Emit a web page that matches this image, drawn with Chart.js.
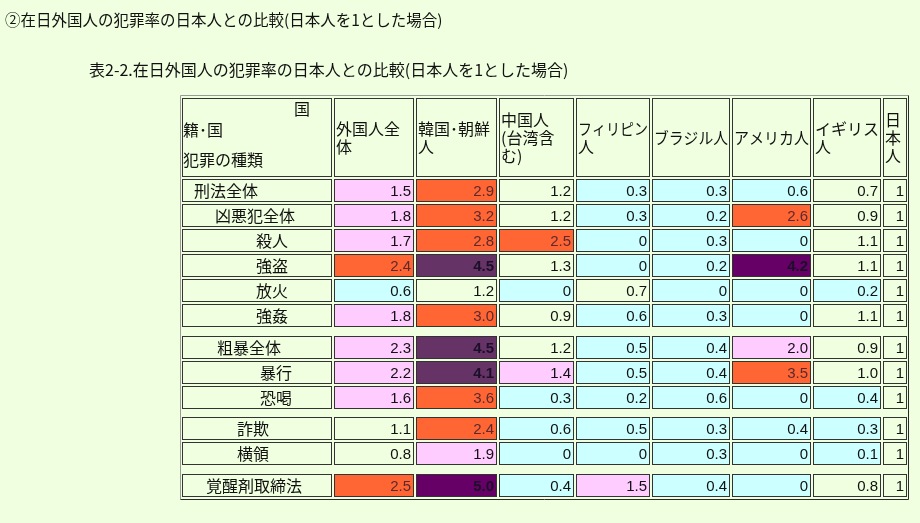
<!DOCTYPE html>
<html><head><meta charset="utf-8">
<script src="https://cdn.jsdelivr.net/npm/chart.js@4"></script>
<style>html,body{margin:0;padding:0;background:#F0FFE0;}canvas{display:block;}</style>
</head><body>
<canvas id="c" width="920" height="523"></canvas>
<script>
// ---------- data ----------
const titleText = '②在日外国人の犯罪率の日本人との比較(日本人を1とした場合)';
const subtitleText = '表2-2.在日外国人の犯罪率の日本人との比較(日本人を1とした場合)';
const cornerTop = '国';
const cornerMid = '籍･国';
const cornerBottom = '犯罪の種類';
const crimeTypes = ['刑法全体','凶悪犯全体','殺人','強盗','放火','強姦','粗暴全体','暴行','恐喝','詐欺','横領','覚醒剤取締法'];
const crimeSections = [6, 3, 2, 1]; // rows in each block of the table
const headerLines = [['外国人全','体'],['韓国･朝鮮','人'],['中国人','(台湾含','む)'],['フィリピン','人'],['ブラジル人'],['アメリカ人'],['イギリス','人'],['日','本','人']];
const foreignAll = [1.5,1.8,1.7,2.4,0.6,1.8,2.3,2.2,1.6,1.1,0.8,2.5];
const korea      = [2.9,3.2,2.8,4.5,1.2,3.0,4.5,4.1,3.6,2.4,1.9,5.0];
const china      = [1.2,1.2,2.5,1.3,0,0.9,1.2,1.4,0.3,0.6,0,0.4];
const philippines= [0.3,0.3,0,0,0.7,0.6,0.5,0.5,0.2,0.5,0,1.5];
const brazil     = [0.3,0.2,0.3,0.2,0,0.3,0.4,0.4,0.6,0.3,0.3,0.4];
const usa        = [0.6,2.6,0,4.2,0,0,2.0,3.5,0,0.4,0,0];
const uk         = [0.7,0.9,1.1,1.1,0.2,1.1,0.9,1.0,0.4,0.3,0.1,0.8];
const japan      = [1,1,1,1,1,1,1,1,1,1,1,1];
const columns = [foreignAll, korea, china, philippines, brazil, usa, uk, japan];

// ---------- layout / style ----------
const BG = '#F0FFE0';
const colEdges = [[182,332],[334,414],[416,497],[499,574],[576,650],[652,730],[732,811],[813,881],[883,907]];
const labelIndent = [12,33,74,74,74,74,35,78,78,55,55,24];
const firstRowY = 190, rowPitch = 25, sectionGap = 6.5, rowH = 23;
const headerY = 137.5, headerH = 79;
const cjk = '"Noto Sans CJK JP", "Noto Sans CJK SC", sans-serif';
const numFont = '"Liberation Sans", Arial, sans-serif';
const colorBands = [
  [0.65, '#CCFFFF'], [1.35, BG], [2.35, '#FFCCFF'], [4.0, '#FF6633'],
  [4.15, '#663366'], [4.3, '#660066'], [4.9, '#663366'], [Infinity, '#660066']
];
function cellColor(v){ for (const [lim,c] of colorBands) if (v < lim) return c; return BG; }
function textColor(v){ return v >= 4 ? '#1c0f2a' : (v >= 2.35 ? '#5a2a30' : '#111'); }

const rowY = [];
{ let i = 0; crimeSections.forEach((n, s) => { for (let k = 0; k < n; k++, i++) rowY.push(Math.round(firstRowY + i*rowPitch + s*sectionGap) + 0.5); }); }

const common = { stack:'table', borderWidth:1, borderColor:'#333333', borderSkipped:false, inflateAmount:0 };
const datasets = [];
datasets.push(Object.assign({ label:'header', barThickness: headerH, backgroundColor: BG,
  data: colEdges.map(e => ({ x: e, y: headerY })) }, common));
datasets.push(Object.assign({ label:'rows', barThickness: rowH, backgroundColor: BG,
  data: crimeTypes.map((t, i) => ({ x: colEdges[0], y: rowY[i] })) }, common));
columns.forEach((vals, j) => {
  datasets.push(Object.assign({ label: headerLines[j].join(''), barThickness: rowH,
    backgroundColor: ctx => cellColor(vals[ctx.dataIndex]),
    data: vals.map((v, i) => ({ x: colEdges[j+1], y: rowY[i] })) }, common));
});

const tablePlugin = {
  id: 'tableText',
  beforeDatasetsDraw(chart){
    const c = chart.ctx, xs = chart.scales.x, ys = chart.scales.y;
    const l = Math.round(xs.getPixelForValue(180))+0.5, r = Math.round(xs.getPixelForValue(908))+0.5;
    const t = Math.round(ys.getPixelForValue(95))+0.5, b = Math.round(ys.getPixelForValue(499))+0.5;
    c.save(); c.lineWidth = 1;
    c.strokeStyle = '#9a9a9a';
    c.beginPath(); c.moveTo(l, b); c.lineTo(l, t); c.lineTo(r, t); c.stroke();
    c.strokeStyle = '#2a2a2a';
    c.beginPath(); c.moveTo(r, t); c.lineTo(r, b); c.lineTo(l, b); c.stroke();
    c.restore();
  },
  afterDatasetsDraw(chart){
    const c = chart.ctx, xs = chart.scales.x, ys = chart.scales.y;
    c.save();
    c.textBaseline = 'middle';
    c.fillStyle = '#111';
    c.textAlign = 'left';
    c.font = '15.5px ' + cjk;
    c.fillText(titleText, xs.getPixelForValue(5), ys.getPixelForValue(20));
    c.font = '16px ' + cjk;
    c.fillText(subtitleText, xs.getPixelForValue(89), ys.getPixelForValue(70));
    // corner header cell
    c.fillText(cornerTop, xs.getPixelForValue(294), ys.getPixelForValue(109));
    c.fillText(cornerMid, xs.getPixelForValue(183), ys.getPixelForValue(130));
    c.fillText(cornerBottom, xs.getPixelForValue(183), ys.getPixelForValue(160));
    // column headers
    const hm = chart.getDatasetMeta(0).data;
    headerLines.forEach((lines, j) => {
      const el = hm[j+1];
      const left = Math.min(el.x, el.base) + 2;
      const w = Math.abs(el.x - el.base) - 4;
      const y0 = el.y - (lines.length - 1) * 9;
      lines.forEach((s, k) => c.fillText(s, left, y0 + k*18, w));
    });
    // row labels
    const rm = chart.getDatasetMeta(1).data;
    crimeTypes.forEach((s, i) => {
      const el = rm[i];
      c.fillText(s, Math.min(el.x, el.base) + labelIndent[i], el.y);
    });
    // values
    c.textAlign = 'right';
    columns.forEach((vals, j) => {
      const meta = chart.getDatasetMeta(j + 2).data;
      vals.forEach((v, i) => {
        const el = meta[i];
        const right = Math.max(el.x, el.base) - 3;
        c.font = (v >= 4 ? 'bold ' : '') + '15px ' + numFont;
        c.fillStyle = textColor(v);
        const txt = (j === columns.length - 1) ? String(v) : (v === 0 ? '0' : v.toFixed(1));
        c.fillText(txt, right, el.y + 1);
      });
    });
    c.restore();
  }
};

new Chart(document.getElementById('c'), {
  type: 'bar',
  data: { datasets },
  options: {
    indexAxis: 'y',
    responsive: false,
    maintainAspectRatio: false,
    animation: false,
    devicePixelRatio: 1,
    layout: { padding: 0 },
    scales: {
      x: { type:'linear', min:0, max:920, display:false, stacked:false, offset:false },
      y: { type:'linear', min:0, max:523, reverse:true, display:false, offset:false }
    },
    plugins: { legend:{ display:false }, tooltip:{ enabled:false } }
  },
  plugins: [tablePlugin]
});
</script>
</body></html>
